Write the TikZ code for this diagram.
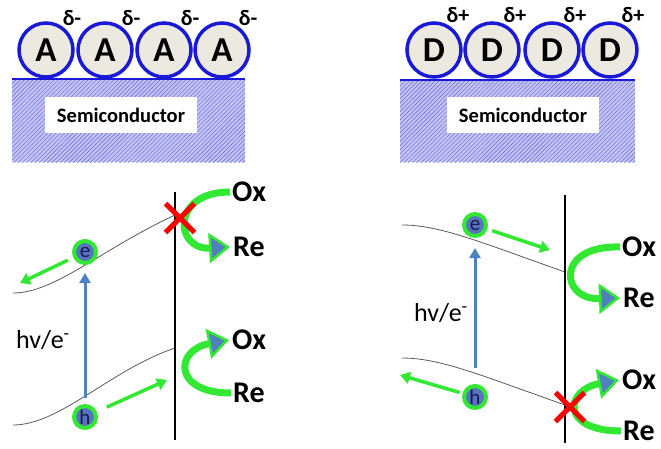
\documentclass[tikz,border=0pt]{standalone}
\usepackage{fontspec}
\setmainfont{Carlito}
\usetikzlibrary{arrows.meta,shapes.misc,patterns.meta}
\definecolor{ringblue}{RGB}{25,25,215}
\definecolor{molfill}{RGB}{236,234,224}
\definecolor{hatchbg}{RGB}{196,196,246}
\definecolor{hatchline}{RGB}{115,115,215}
\definecolor{arrowblue}{RGB}{79,129,189}
\definecolor{cgreen}{RGB}{50,232,50}
\definecolor{carrierfill}{RGB}{86,116,190}
\definecolor{navy}{RGB}{25,25,80}
\definecolor{bandgray}{RGB}{90,90,90}
\begin{document}
\begin{tikzpicture}[x=1pt,y=-1pt,
  molec/.style={circle, draw=ringblue, line width=3.5pt, fill=molfill, minimum size=54pt, inner sep=0pt, font=\fontsize{35}{38}\selectfont\bfseries},
  dlab/.style={font=\fontsize{22}{23}\selectfont\bfseries, inner sep=0pt},
  semibox/.style={fill=white, minimum width=152pt, minimum height=36pt, inner sep=0pt, font=\fontsize{20.5}{22}\selectfont\bfseries},
  carrier/.style={circle, fill=carrierfill, draw=cgreen, line width=4pt, minimum size=22pt, inner sep=0pt, text=navy, font=\fontsize{21}{21}\selectfont},
  band/.style={draw=bandgray, line width=0.8pt},
  iface/.style={line width=2.8pt},
  photon/.style={draw=arrowblue, line width=3pt, -{Triangle[length=10pt,width=11pt]}},
  drift/.style={draw=cgreen, line width=3.5pt, -{Triangle[length=10pt,width=12pt]}},
  redox/.style={draw=cgreen, line width=7pt, -{Triangle[length=21pt,width=30pt,fill=arrowblue,line width=2.5pt]}},
  species/.style={font=\fontsize{30}{31}\selectfont\bfseries, inner sep=0pt, anchor=west},
  hvlab/.style={font=\fontsize{26}{27}\selectfont},
  blocked/.style={cross out, draw=red, line width=5pt, minimum size=24pt, inner sep=0pt}
]
\useasboundingbox (0,0) rectangle (661,448);

% ---------- top left: acceptors ----------
\fill[hatchbg] (12,79) rectangle (245,162);
\path[pattern={Lines[angle=45,distance=3pt,line width=0.6pt]}, pattern color=hatchline] (12,79) rectangle (245,162);
\node[semibox] (semiA) at (121,115) {Semiconductor};
\draw[draw=ringblue, line width=2.5pt] (12,79) -- (245,79);
\node[molec] (a1) at (46,50) {A};
\node[molec] (a2) at (105,50) {A};
\node[molec] (a3) at (164,50) {A};
\node[molec] (a4) at (222,50) {A};
\node[dlab] (da1) at (72,18) {δ-};
\node[dlab] (da2) at (131,18) {δ-};
\node[dlab] (da3) at (190,18) {δ-};
\node[dlab] (da4) at (248,18) {δ-};

% ---------- top right: donors ----------
\fill[hatchbg] (400,80) rectangle (635,162);
\path[pattern={Lines[angle=45,distance=3pt,line width=0.6pt]}, pattern color=hatchline] (400,80) rectangle (635,162);
\node[semibox] (semiD) at (523,115) {Semiconductor};
\draw[draw=ringblue, line width=2.5pt] (400,80) -- (635,80);
\node[molec] (d1) at (434,50) {D};
\node[molec] (d2) at (492,50) {D};
\node[molec] (d3) at (552,50) {D};
\node[molec] (d4) at (610,50) {D};
\node[dlab] (dd1) at (458,15) {δ+};
\node[dlab] (dd2) at (515,15) {δ+};
\node[dlab] (dd3) at (575,15) {δ+};
\node[dlab] (dd4) at (633,15) {δ+};

% ---------- bottom left ----------
\draw[band] (13,293) .. controls (55,293) and (100,250) .. (175,215);
\draw[band] (13,425) .. controls (60,425) and (110,370) .. (175,348);
\draw[iface] (175,192) -- (175,440);
\node[hvlab] (hvA) at (43,340) {hv/e\textsuperscript{-}};
\node[carrier] (e1) at (85,252) {e};
\node[carrier] (h1) at (85,417) {h};
\draw[photon, shorten <=6pt, shorten >=8pt] (h1) -- (e1);
\coordinate (eA) at (20,283);
\coordinate (hA) at (167,380);
\draw[drift, shorten <=6pt] (e1) -- (eA);
\draw[drift, shorten <=11pt] (h1) -- (hA);
\node[species] (oxA) at (232,192) {Ox};
\node[species] (reA) at (233,247) {Re};
\node[species] (oxB) at (232,340) {Ox};
\node[species] (reB) at (233,393) {Re};
\draw[redox] ([xshift=-2pt]oxA.west) .. controls (170,192) and (175,250) .. ([xshift=-3pt]reA.west);
\draw[redox] ([xshift=-2pt]reB.west) .. controls (172,393) and (175,350) .. ([xshift=-3pt]oxB.west);
\node[blocked] (xA) at (180,218) {};

% ---------- bottom right ----------
\draw[band] (402,225) .. controls (440,225) and (480,242) .. (565,272);
\draw[band] (402,358) .. controls (440,358) and (480,375) .. (565,405);
\draw[iface] (565,195) -- (565,443);
\node[hvlab] (hvD) at (441,313) {hv/e\textsuperscript{-}};
\node[carrier] (e2) at (475,225) {e};
\node[carrier] (h2) at (475,397) {h};
\draw[photon, shorten <=16pt, shorten >=10pt] (h2) -- (e2);
\coordinate (eD) at (550,250);
\coordinate (hD) at (400,375);
\draw[drift, shorten <=5pt] (e2) -- (eD);
\draw[drift, shorten <=3pt] (h2) -- (hD);
\node[species] (oxC) at (622,247) {Ox};
\node[species] (reC) at (623,298) {Re};
\node[species] (oxD) at (622,380) {Ox};
\node[species] (reD) at (623,431) {Re};
\draw[redox] ([xshift=-2pt]oxC.west) .. controls (555,245) and (560,300) .. ([xshift=-3pt]reC.west);
\draw[redox] ([xshift=-2pt]reD.west) .. controls (560,431) and (565,390) .. ([xshift=-3pt]oxD.west);
\node[blocked] (xD) at (570,407) {};
\end{tikzpicture}
\end{document}
